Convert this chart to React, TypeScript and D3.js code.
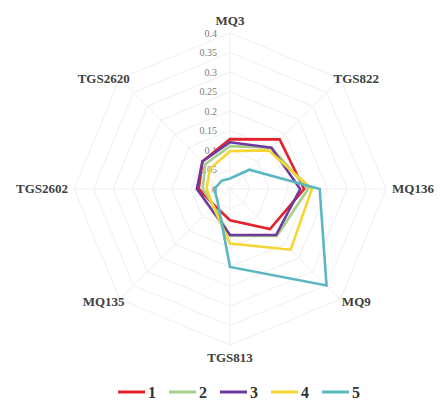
import React from 'react'
import * as d3 from 'd3'

// sensor axes, clockwise from the top
const axes = ['MQ3', 'TGS822', 'MQ136', 'MQ9', 'TGS813', 'MQ135', 'TGS2602', 'TGS2620']
const ticks = [0, 0.05, 0.1, 0.15, 0.2, 0.25, 0.3, 0.35, 0.4]
const seriesNames = ['1', '2', '3', '4', '5']
const s1 = [0.128, 0.18, 0.19, 0.145, 0.08, 0.058, 0.08, 0.1]
const s2 = [0.11, 0.15, 0.2, 0.17, 0.12, 0.06, 0.07, 0.09]
const s3 = [0.12, 0.15, 0.18, 0.167, 0.118, 0.07, 0.085, 0.1]
const s4 = [0.097, 0.14, 0.21, 0.22, 0.14, 0.062, 0.06, 0.073]
const s5 = [0.027, 0.07, 0.23, 0.35, 0.2, 0.045, 0.04, 0.03]
const series = [s1, s2, s3, s4, s5]
const colors = ['#e3202b', '#a6d08a', '#6e3a9e', '#f4d531', '#5cb6c4']

const W = 441
const H = 402
const cx = 230
const cy = 189
const R = 156
const serif = 'Liberation Serif, DejaVu Serif, Times New Roman, serif'

const App = () => {
  const r = d3.scaleLinear().domain([0, 0.4]).range([0, R])
  const angle = d3.scaleLinear().domain([0, axes.length]).range([0, Math.PI * 2])
  const pt = (i: number, v: number): [number, number] => [
    cx + r(v) * Math.sin(angle(i)),
    cy - r(v) * Math.cos(angle(i)),
  ]
  const ring = (v: number) => d3.line()(axes.map((_, i) => pt(i, v))) + 'Z'
  const radar = d3
    .lineRadial<number>()
    .angle((_, i) => angle(i))
    .radius((d) => r(d))
    .curve(d3.curveLinearClosed)

  const legendX = d3.scaleLinear().domain([0, seriesNames.length]).range([118, 373])

  return (
    <svg width={W} height={H} style={{ position: 'absolute', left: 0, top: 0, background: '#fff' }}>
      <g>
        {ticks.slice(1).map((t) => (
          <path key={t} d={ring(t)} fill="none" stroke="#efefef" strokeWidth={1} />
        ))}
        {axes.map((a, i) => {
          const [x, y] = pt(i, 0.4)
          return <line key={a} x1={cx} y1={cy} x2={x} y2={y} stroke="#efefef" strokeWidth={1} />
        })}
      </g>
      <g fontFamily={serif} fontSize={10} fill="#7a7a7a" textAnchor="end">
        {ticks.map((t) => (
          <text key={t} x={cx - 13} y={cy - r(t)} dy="0.35em">
            {String(t)}
          </text>
        ))}
      </g>
      <g transform={`translate(${cx},${cy})`}>
        {series.map((s, k) => (
          <path key={k} d={radar(s) || ''} fill="none" stroke={colors[k]} strokeWidth={2.6} strokeLinejoin="miter" />
        ))}
      </g>
      <g fontFamily={serif} fontSize={13} fontWeight="bold" fill="#404040">
        {axes.map((a, i) => {
          const [x, y] = pt(i, 0.4)
          const s = Math.sin(angle(i))
          const c = Math.cos(angle(i))
          let anchor = 'middle'
          let tx = x
          let ty = y + 4
          if (Math.abs(s) < 0.1) {
            ty = c > 0 ? y - 8 : y + 17
          } else if (Math.abs(c) < 0.1) {
            anchor = s > 0 ? 'start' : 'end'
            tx = x + (s > 0 ? 6 : -6)
          } else {
            tx = x + (s > 0 ? 16 : -16)
            ty = y + (c > 0 ? 4 : 7)
          }
          return (
            <text key={a} x={tx} y={ty} textAnchor={anchor}>
              {a}
            </text>
          )
        })}
      </g>
      <g fontFamily={serif} fontSize={16} fontWeight="bold" fill="#333">
        {seriesNames.map((n, k) => (
          <g key={n} transform={`translate(${legendX(k)},392)`}>
            <line x1={0} x2={27} y1={0} y2={0} stroke={colors[k]} strokeWidth={3} />
            <text x={30} y={6}>
              {n}
            </text>
          </g>
        ))}
      </g>
    </svg>
  )
}

export default App
